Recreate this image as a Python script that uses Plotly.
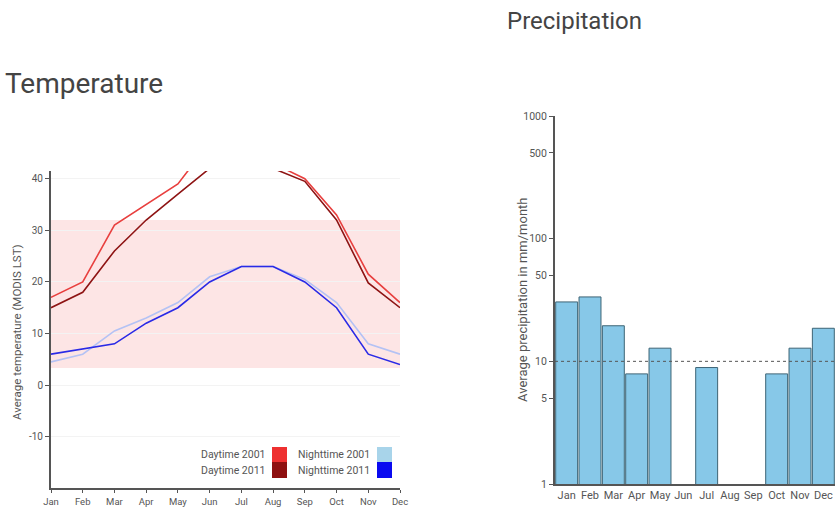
import plotly.graph_objects as go

months = ["Jan", "Feb", "Mar", "Apr", "May", "Jun", "Jul", "Aug", "Sep", "Oct", "Nov", "Dec"]
day_2001 = [17, 20, 31, 35, 39, 47, 48, 43, 40, 33, 21.5, 16]
day_2011 = [15, 18, 26, 32, 37, 42, 45, 42, 39.5, 32, 19.8, 15]
night_2001 = [4.5, 6, 10.5, 13, 16, 21, 23, 23, 20.5, 16, 8, 6]
night_2011 = [6, 7, 8, 12, 15, 20, 23, 23, 20, 15, 6, 4]
band_low, band_high = 3.3, 32
precip = [30.5, 33.5, 19.5, 7.9, 12.8, None, 8.9, None, None, 7.9, 12.8, 18.6]
precip_ref = 10
temp_ticks = [40, 30, 20, 10, 0, -10]
precip_ticks = [1, 5, 10, 50, 100, 500, 1000]

W, H = 840, 507
def px(x):
    return x / W
def py(y):
    return 1 - y / H

FONT = "Roboto"
TXT = "#555"
AX = "#555"

fig = go.Figure()
xi = list(range(12))
series = [
    ("Daytime 2001", day_2001, "#e8403f"),
    ("Daytime 2011", day_2011, "#8e1414"),
    ("Nighttime 2001", night_2001, "#b4c2f4"),
    ("Nighttime 2011", night_2011, "#2a2ae6"),
]
for name, vals, col in series:
    fig.add_trace(go.Scatter(x=xi, y=vals, mode="lines", name=name,
                             line=dict(color=col, width=1.6),
                             xaxis="x", yaxis="y", showlegend=False, cliponaxis=True))

fig.add_trace(go.Bar(x=months, y=precip, marker=dict(color="#87c8e8", line=dict(color="#3d6475", width=1)),
                     xaxis="x2", yaxis="y2", showlegend=False))

shapes = [
    dict(type="rect", xref="x", yref="y", x0=0, x1=11, y0=band_low, y1=band_high,
         fillcolor="rgba(252,215,215,0.65)", line=dict(width=0), layer="below"),
    dict(type="line", xref="x2 domain", yref="y2", x0=0, x1=1, y0=precip_ref, y1=precip_ref,
         line=dict(color="#555", width=1, dash="dot")),
]

leg = [
    ("Daytime 2001", "#ee3030", 267, 272, 447, 462),
    ("Daytime 2011", "#8e1010", 267, 272, 462, 478),
    ("Nighttime 2001", "#a8d4ea", 372, 377, 447, 462),
    ("Nighttime 2011", "#0a0af0", 372, 377, 462, 478),
]
annotations = []
for name, col, tx, sx, y0, y1 in leg:
    shapes.append(dict(type="rect", xref="paper", yref="paper", x0=px(sx), x1=px(sx + 15),
                       y0=py(y1), y1=py(y0), fillcolor=col, line=dict(width=0)))
    annotations.append(dict(text=name, xref="paper", yref="paper", x=px(tx), y=py((y0 + y1) / 2),
                            xanchor="right", yanchor="middle", showarrow=False,
                            font=dict(family=FONT, size=10.5, color=TXT)))

annotations += [
    dict(text="Temperature", xref="paper", yref="paper", x=px(3), y=py(84), xanchor="left",
         yanchor="middle", showarrow=False, font=dict(family=FONT, size=28, color="#444")),
    dict(text="Precipitation", xref="paper", yref="paper", x=px(574), y=py(21), xanchor="center",
         yanchor="middle", showarrow=False, font=dict(family=FONT, size=24, color="#444")),
    dict(text="Average temperature (MODIS LST)", xref="paper", yref="paper", x=px(17), y=py(332),
         xanchor="center", yanchor="middle", textangle=-90, showarrow=False,
         font=dict(family=FONT, size=11.5, color=TXT)),
    dict(text="Average precipitation in mm/month", xref="paper", yref="paper", x=px(522), y=py(300),
         xanchor="center", yanchor="middle", textangle=-90, showarrow=False,
         font=dict(family=FONT, size=13, color=TXT)),
]

fig.update_layout(
    width=W, height=H, margin=dict(l=0, r=0, t=0, b=0, autoexpand=False),
    paper_bgcolor="white", plot_bgcolor="white",
    font=dict(family=FONT, size=10, color=TXT),
    bargap=0.06,
    shapes=shapes, annotations=annotations,
    xaxis=dict(domain=[px(51), px(400)], range=[0, 11], tickvals=xi, ticktext=months,
               showgrid=False, zeroline=False, showline=True, linecolor=AX, linewidth=2,
               ticks="outside", ticklen=3, tickcolor=AX, anchor="y", automargin=False,
               tickfont=dict(size=9.5, color=TXT)),
    yaxis=dict(domain=[py(488.3), py(171)], range=[-20, 41.5], tickvals=temp_ticks,
               ticktext=[str(t) for t in temp_ticks],
               showgrid=True, gridcolor="#f3f3f3", zeroline=False, showline=True, linecolor=AX,
               linewidth=2, ticks="outside", ticklen=4, tickcolor=AX, anchor="x", automargin=False,
               tickfont=dict(size=10, color=TXT)),
    xaxis2=dict(domain=[px(555), px(835)], showgrid=False, zeroline=False, showline=True,
                linecolor=AX, linewidth=2, ticks="", anchor="y2", categoryorder="array",
                categoryarray=months, automargin=False, tickfont=dict(size=11, color=TXT)),
    yaxis2=dict(domain=[py(484), py(116)], type="log", range=[0, 3], tickvals=precip_ticks,
                ticktext=[str(t) for t in precip_ticks], showgrid=False, zeroline=False,
                showline=True, linecolor=AX, linewidth=2, ticks="outside", ticklen=4,
                tickcolor=AX, anchor="x2", automargin=False,
                tickfont=dict(size=10.5, color=TXT)),
)

fig.write_html("out.html", config={"displayModeBar": False},
               post_script="document.body.style.margin='0';document.body.style.overflow='hidden';")
